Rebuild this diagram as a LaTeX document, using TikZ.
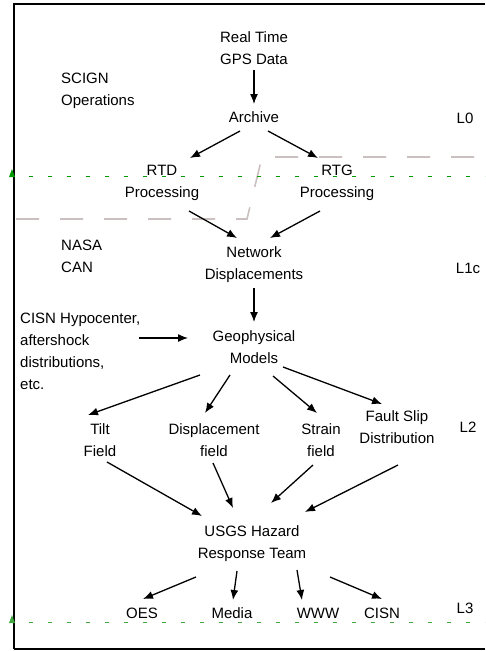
\documentclass[tikz,border=0pt]{standalone}
\usepackage{fontspec}
\setmainfont{Liberation Sans}
\usetikzlibrary{arrows.meta}
\definecolor{gdark}{HTML}{009900}
\definecolor{glight}{HTML}{3FA83F}
\definecolor{pinkgray}{HTML}{CBC0C0}
\begin{document}
\begin{tikzpicture}[x=1pt,y=-1pt,
  lbl/.style={inner sep=0pt, align=center, font=\fontsize{15}{22}\selectfont},
  lbll/.style={lbl, align=left, anchor=west},
  arr/.style={-{Latex[length=10pt,width=8pt]}, line width=1.3pt},
  frame/.style={line width=1.5pt},
  gline/.style={line width=1pt, dash pattern=on 4pt off 15pt, dash phase=4pt},
  split/.style={pinkgray, line width=1.6pt, dash pattern=on 23pt off 21pt, dash phase=42pt}]
\useasboundingbox (0,0) rectangle (485,651);
% frame
\draw[frame] (485,4) -- (14,4) -- (14,649);
\draw[line width=2pt] (14,649) -- (485,649);
% split line
\draw[split] (14,219) -- (247,219) -- (262,157) -- (485,157);
% level lines
\draw[gline, gdark] (14,176) -- (485,176);
\draw[gline, glight] (14,622) -- (485,622);
\fill[gdark] (12,169) -- (15,177) -- (9,177) -- cycle;
\fill[glight] (12,615) -- (15,623) -- (9,623) -- cycle;
% nodes
\node[lbl] (gps) at (254,48) {Real Time\\GPS Data};
\node[lbl] (archive) at (254,117) {Archive};
\node[lbl] (rtd) at (162,183) {RTD\\Processing};
\node[lbl] (rtg) at (337,183) {RTG\\Processing};
\node[lbl] (net) at (254,264.5) {Network\\Displacements};
\node[lbl] (geo) at (254,347) {Geophysical\\Models};
\node[lbl] (tilt) at (100,440) {Tilt\\Field};
\node[lbl] (disp) at (214,440) {Displacement\\field};
\node[lbl] (strain) at (321,440) {Strain\\field};
\node[lbl] (fault) at (397,427.5) {Fault Slip\\Distribution};
\node[lbl] (usgs) at (252,543.5) {USGS Hazard\\Response Team};
\node[lbl] (oes) at (142,613) {OES};
\node[lbl] (media) at (232,613) {Media};
\node[lbl] (www) at (318,613) {WWW};
\node[lbl] (cisn) at (382,613) {CISN};
\node[lbll] (scign) at (61,90.5) {SCIGN\\Operations};
\node[lbll] (nasa) at (61,256) {NASA\\CAN};
\node[lbll] (cisnh) at (20,351) {CISN Hypocenter,\\aftershock\\distributions,\\etc.};
\node[lbl] (l0) at (465,118) {L0};
\node[lbl] (l1c) at (468,268) {L1c};
\node[lbl] (l2) at (468,427) {L2};
\node[lbl] (l3) at (465,608) {L3};
% connectors
\draw[arr] ([shift={(0,22)}]gps.center) -- ([shift={(0,-13)}]archive.center);
\draw[arr] ([shift={(-14,14)}]archive.center) -- ([shift={(28,-25)}]rtd.center);
\draw[arr] ([shift={(14,14)}]archive.center) -- ([shift={(-19,-25)}]rtg.center);
\draw[arr] ([shift={(27,28)}]rtd.center) -- ([shift={(-17,-26.5)}]net.center);
\draw[arr] ([shift={(-17,28)}]rtg.center) -- ([shift={(16,-26.5)}]net.center);
\draw[arr] ([shift={(0,23.5)}]net.center) -- ([shift={(0,-25)}]geo.center);
\draw[arr] ([shift={(119,-13)}]cisnh.west) -- ([shift={(-66,-9)}]geo.center);
\draw[arr] ([shift={(-54,28)}]geo.center) -- ([shift={(-12,-25)}]tilt.center);
\draw[arr] ([shift={(-24,28)}]geo.center) -- ([shift={(-9,-27)}]disp.center);
\draw[arr] ([shift={(19,29)}]geo.center) -- ([shift={(-4,-27)}]strain.center);
\draw[arr] ([shift={(29,20)}]geo.center) -- ([shift={(-15,-23.5)}]fault.center);
\draw[arr] ([shift={(7,22)}]tilt.center) -- ([shift={(-50,-27.5)}]usgs.center);
\draw[arr] ([shift={(-1,23)}]disp.center) -- ([shift={(-19,-35.5)}]usgs.center);
\draw[arr] ([shift={(-8,25)}]strain.center) -- ([shift={(19,-40.5)}]usgs.center);
\draw[arr] ([shift={(1,37.5)}]fault.center) -- ([shift={(53,-31.5)}]usgs.center);
\draw[arr] ([shift={(-56,33.5)}]usgs.center) -- ([shift={(1,-14)}]oes.center);
\draw[arr] ([shift={(-15,27.5)}]usgs.center) -- ([shift={(1,-13)}]media.center);
\draw[arr] ([shift={(45,26.5)}]usgs.center) -- ([shift={(-16,-13)}]www.center);
\draw[arr] ([shift={(78,33.5)}]usgs.center) -- ([shift={(0,-14)}]cisn.center);
\end{tikzpicture}
\end{document}
